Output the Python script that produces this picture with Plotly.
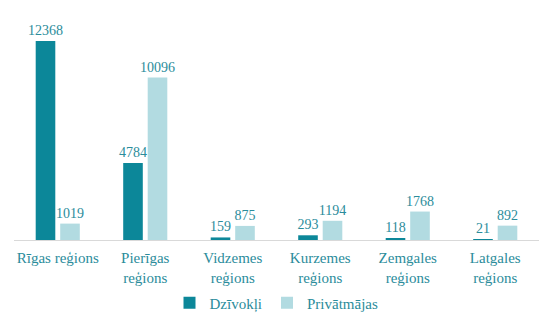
import plotly.graph_objects as go

regions = ["Rīgas reģions", "Pierīgas<br>reģions", "Vidzemes<br>reģions",
           "Kurzemes<br>reģions", "Zemgales<br>reģions", "Latgales<br>reģions"]
dzivokli = [12368, 4784, 159, 293, 118, 21]
privatmajas = [1019, 10096, 875, 1194, 1768, 892]

series_names = ["Dzīvokļi", "Privātmājas"]
dark = "#0c8799"
light = "#b2dbe1"
text_color = "#2b8c9b"
serif = "Times New Roman"

fig = go.Figure()
for name, vals, col in [(series_names[0], dzivokli, dark),
                        (series_names[1], privatmajas, light)]:
    fig.add_trace(go.Bar(
        x=regions, y=vals, name=name, marker_color=col,
        text=[str(v) for v in vals], textposition="outside",
        textfont=dict(family=serif, size=14, color=text_color),
    ))

fig.update_layout(
    template="none",
    width=554, height=323,
    font=dict(family=serif, size=15, color=text_color),
    margin=dict(l=14, r=15, t=20, b=83, autoexpand=False),
    plot_bgcolor="white", paper_bgcolor="white",
    barmode="group", bargap=0.44, bargroupgap=0.2,
    legend=dict(orientation="h", x=0.5, xanchor="center", y=-0.286, yanchor="middle",
                font=dict(family=serif, size=15, color=text_color),
                itemwidth=30),
    xaxis=dict(showline=True, linecolor="#d9d9d9", linewidth=1, ticks="",
               showgrid=False, automargin=False, ticklabelstandoff=4,
               tickfont=dict(family=serif, size=15, color=text_color)),
    yaxis=dict(range=[0, 13673], visible=False, showgrid=False, zeroline=False),
    uniformtext=dict(minsize=14, mode="show"),
)

fig.write_html("out.html")
